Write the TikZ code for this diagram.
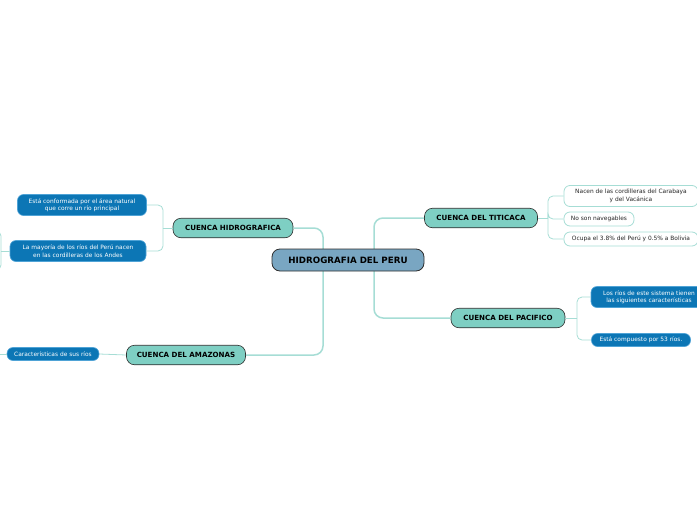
\documentclass[tikz,border=0pt]{standalone}
\usepackage{fontspec}
\setmainfont{DejaVu Sans}
\usepackage{xcolor}
\usetikzlibrary{positioning}
\definecolor{rootfill}{HTML}{79A6C2}
\definecolor{basinfill}{HTML}{7ECFC3}
\definecolor{edgeline}{HTML}{2E2E2E}
\definecolor{notefill}{HTML}{0C76B5}
\definecolor{notedraw}{HTML}{4FA3D6}
\definecolor{link}{HTML}{A6DDD5}
\tikzset{
  root/.style={draw=edgeline,fill=rootfill,rounded corners=8pt,line width=0.8pt,
    minimum width=152pt,minimum height=22pt,inner sep=0pt,
    font=\fontsize{8.7}{10}\selectfont\bfseries},
  basin/.style={draw=edgeline,fill=basinfill,rounded corners=8pt,line width=0.6pt,
    minimum height=19.5pt,inner sep=0pt,font=\fontsize{7.1}{8.5}\selectfont\bfseries},
  bluenote/.style={draw=notedraw,fill=notefill,text=white,rounded corners=6pt,
    line width=0.6pt,align=center,inner sep=0pt,
    font=\fontsize{5.9}{7.5}\selectfont},
  whitenote/.style={draw=link,fill=white,text=black!85,rounded corners=6pt,
    line width=0.8pt,align=center,inner sep=0pt,
    font=\fontsize{5.9}{7.5}\selectfont},
  trunk/.style={draw=link,line width=1.5pt,rounded corners=9pt},
  twig/.style={draw=link,line width=0.8pt,rounded corners=5pt}
}

\begin{document}
\begin{tikzpicture}[x=1pt,y=-1pt]
  \useasboundingbox (0,0) rectangle (697,520);
  \clip (0,0) rectangle (697,520);

  % basins
  \node[basin,minimum width=120pt] (hidro) at (233,228) {CUENCA HIDROGRAFICA};
  \node[basin,minimum width=119pt] (amaz) at (186,355) {CUENCA DEL AMAZONAS};
  \node[basin,minimum width=113pt] (titi) at (481,218) {CUENCA DEL TITICACA};
  \node[basin,minimum width=114pt] (paci) at (508,318) {CUENCA DEL PACIFICO};

  % notes
  \node[bluenote,minimum width=129pt,minimum height=21pt] (hn1) at (82,205)
    {Está conformada por el área natural\\que corre un río principal};
  \node[bluenote,minimum width=136pt,minimum height=21pt] (hn2) at (78,251)
    {La mayoría de los ríos del Perú nacen\\en las cordilleras de los Andes};
  \node[bluenote,minimum width=92pt,minimum height=13pt] (an1) at (53,354)
    {Características de sus ríos};
  \node[whitenote,minimum width=134pt,minimum height=21pt] (tn1) at (631,196)
    {Nacen de las cordilleras del Carabaya\\y del Vacánica};
  \node[whitenote,minimum width=70pt,minimum height=14pt] (tn2) at (599,219)
    {No son navegables};
  \node[whitenote,minimum width=134pt,minimum height=14pt] (tn3) at (631,239)
    {Ocupa el 3.8\% del Perú y 0.5\% a Bolivia};
  \node[bluenote,minimum width=116pt,minimum height=21pt] (pn1) at (649,297)
    {Los ríos de este sistema tienen\\las siguientes características};
  \node[bluenote,minimum width=99pt,minimum height=13pt] (pn2) at (641,340)
    {Está compuesto por 53 ríos.};

  % joints
  \coordinate (lj) at (323,290);
  \coordinate (rj) at (374,260);
  \coordinate (hj) at (163,228);
  \coordinate (tj) at (548,218);
  \coordinate (pj) at (577,318);
  \coordinate (lstub) at (1,251);
  \coordinate (ltop) at (-8,231);
  \coordinate (lbot) at (-8,270);
  \coordinate (astub) at (-2,354);

  % trunks
  \draw[trunk] (hidro.east) -| (lj) |- (amaz.east);
  \draw[trunk] (titi.west) -| (rj) |- (paci.west);

  % twigs
  \draw[twig] (hidro.west) -- (hj);
  \draw[twig] (hj) |- (hn1.east);
  \draw[twig] (hj) |- (hn2.east);
  \draw[twig] (amaz.west) -- (an1.east);
  \draw[twig] (titi.east) -- (tj);
  \draw[twig] (tj) |- (tn1.west);
  \draw[twig] (tj) |- (tn2.west);
  \draw[twig] (tj) |- (tn3.west);
  \draw[twig] (paci.east) -- (pj);
  \draw[twig] (pj) |- (pn1.west);
  \draw[twig] (pj) |- (pn2.west);
  \draw[twig] (hn2.west) -- (lstub);
  \draw[twig] (ltop) -| (lstub) |- (lbot);
  \draw[twig] (an1.west) -- (astub);

  % root on top of trunks
  \node[root] (peru) at (348,260) {HIDROGRAFIA DEL PERU};
\end{tikzpicture}
\end{document}
